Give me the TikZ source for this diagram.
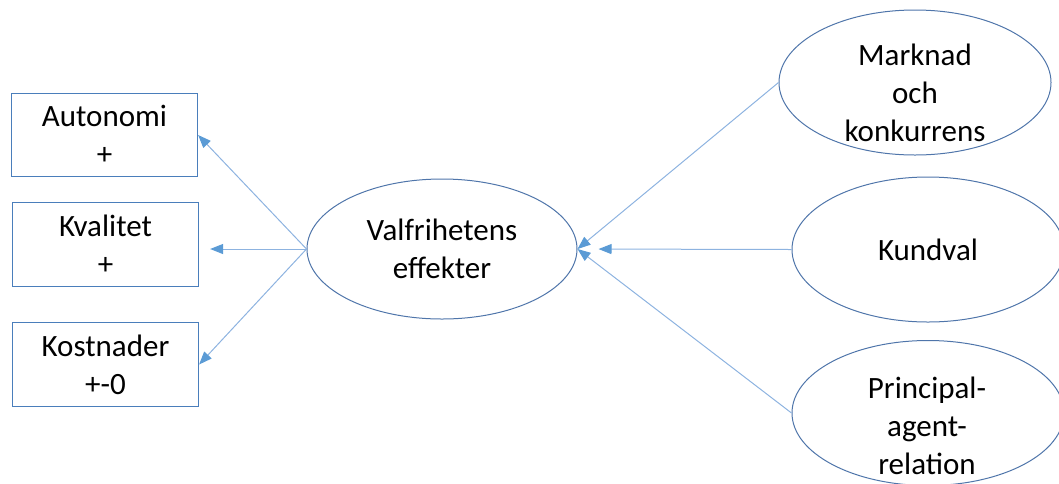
\documentclass[tikz,border=0pt]{standalone}
\usepackage{fontspec}
\setmainfont{Carlito}
\usetikzlibrary{arrows.meta,shapes.geometric}
\definecolor{boxline}{HTML}{4A7EBB}
\definecolor{ellline}{HTML}{4F75AA}
\definecolor{arrline}{HTML}{8DB3E0}
\definecolor{arrhead}{HTML}{5B9BD5}
\begin{document}
\begin{tikzpicture}[x=1pt,y=-1pt,
  every node/.style={font=\fontsize{31}{38}\selectfont, text=black},
  effectbox/.style={draw=boxline, line width=1.2pt, minimum width=186pt,
    minimum height=83.5pt, inner sep=0pt, align=center},
  factor/.style={ellipse, draw=ellline, line width=1pt, inner sep=0pt,
    minimum width=272pt, minimum height=145pt, align=center},
  lbl/.style={align=center, inner sep=0pt},
  conn/.style={draw=arrline, line width=1pt,
    -{Triangle[length=13pt,width=10pt,color=arrhead]}}
]
\useasboundingbox (0,0) rectangle (1059,483);
\clip (0,0) rectangle (1059,483);

% effects (left)
\node[effectbox] (au) at (104.5,135)   {Autonomi\\+};
\node[effectbox] (kv) at (105.5,244.5) {Kvalitet\\+};
\node[effectbox] (ko) at (105.5,364.5) {Kostnader\\+-0};

% central ellipse
\node[factor, minimum width=270pt, minimum height=140pt] (ce) at (442,249)
  {Valfrihetens\\effekter};

% driving factors (right)
\node[factor] (mk) at (915,82.5) {};
\node[lbl] (mkt) at (915,93) {Marknad\\och\\konkurrens};
\node[factor] (kd) at (928,249.5) {Kundval};
\node[factor] (pa) at (928,413) {};
\node[lbl] (pat) at (927,426) {Principal-\\agent-\\relation};

% connectors
\draw[conn] (ce.west) -- (au.east);
\draw[conn, shorten >=11pt] (ce.west) -- (ce.west -| kv.east);
\draw[conn] (ce.west) -- (ko.east);
\draw[conn] (mk.west) -- (ce.east);
\draw[conn, shorten >=21pt] (kd.west) -- (ce.east);
\draw[conn] (pa.west) -- (ce.east);
\end{tikzpicture}
\end{document}
